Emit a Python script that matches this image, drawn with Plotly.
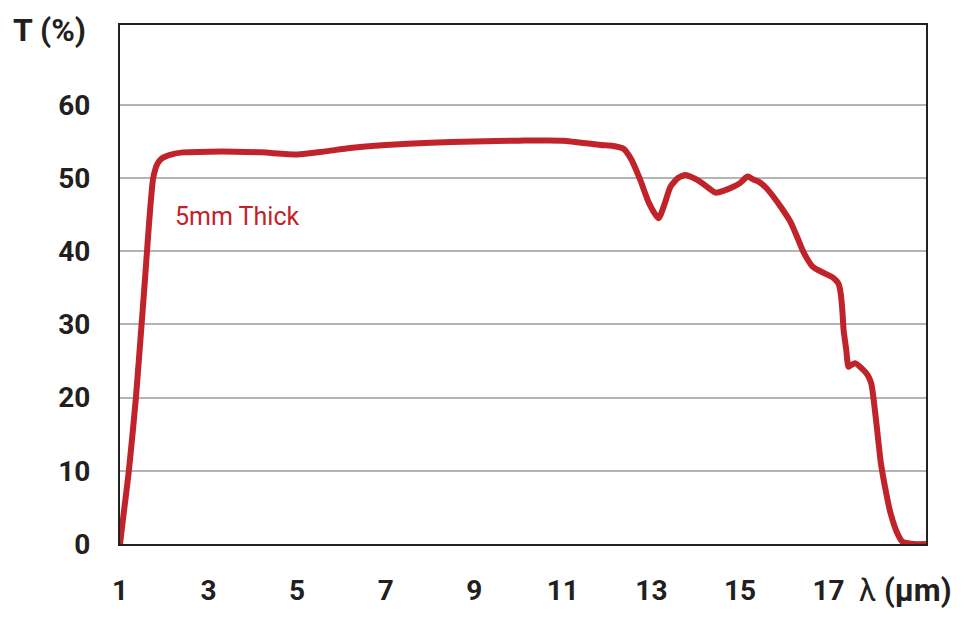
import plotly.graph_objects as go

# Transmission curve (wavelength in µm, transmission in %)
wavelength = [1.0, 1.1, 1.2, 1.36, 1.55, 1.75, 1.85, 1.95, 2.15, 2.42, 3.0, 3.6, 4.2, 5.0, 5.6, 6.2, 7.0, 8.0, 9.0,
              10.0, 11.0, 11.85, 12.1, 12.37, 12.55, 12.75, 12.95, 13.16, 13.3, 13.43, 13.6, 13.77, 13.95,
              14.1, 14.3, 14.45, 14.65, 14.85, 15.0, 15.17, 15.3, 15.42, 15.6, 15.76, 15.95, 16.14,
              16.3, 16.44, 16.64, 16.9, 17.1, 17.22, 17.27, 17.31, 17.34, 17.4, 17.45, 17.52, 17.6, 17.75,
              17.88, 17.96, 18.0, 18.08, 18.18, 18.3, 18.4, 18.55, 18.67, 18.9, 19.2]
transmission = [0.0, 5.0, 10.0, 20.0, 35.0, 50.0, 52.0, 52.7, 53.2, 53.5, 53.6, 53.6, 53.5, 53.2, 53.6, 54.1, 54.5, 54.8, 55.0,
                55.1, 55.1, 54.5, 54.4, 54.0, 52.5, 49.7, 46.5, 44.5, 46.5, 48.8, 50.0, 50.4, 50.0,
                49.5, 48.6, 48.0, 48.3, 48.8, 49.3, 50.2, 49.8, 49.5, 48.6, 47.4, 45.8, 44.0,
                41.8, 39.8, 37.9, 37.0, 36.4, 35.6, 34.4, 32.0, 29.2, 26.5, 24.2, 24.5, 24.7, 24.0,
                23.1, 22.0, 20.6, 16.5, 11.1, 7.0, 4.2, 1.5, 0.3, 0.0, 0.0]

x_ticks = [1, 3, 5, 7, 9, 11, 13, 15, 17]
y_ticks = [0, 10, 20, 30, 40, 50, 60]

line_color = "#C1232B"
text_color = "#231F20"
font_family = "Liberation Sans Narrow, Roboto, sans-serif"

fig = go.Figure()
fig.add_trace(go.Scatter(
    x=wavelength, y=transmission, mode="lines",
    line=dict(color=line_color, width=6, shape="spline", smoothing=0.6),
    hoverinfo="skip", showlegend=False,
))

fig.add_annotation(x=2.2, y=44.7, xref="x", yref="y", text="5mm Thick",
                   showarrow=False, xanchor="left", yanchor="middle",
                   font=dict(family=font_family, size=25, color=line_color))

fig.add_annotation(x=-0.135, y=0.99, xref="paper", yref="paper", text="<b>T (%)</b>",
                   showarrow=False, xanchor="left", yanchor="middle",
                   font=dict(family=font_family, size=32, color=text_color, weight="bold"))

fig.add_annotation(x=0.914, y=-0.089, xref="paper", yref="paper", text="λ <b>(µm)</b>",
                   showarrow=False, xanchor="left", yanchor="middle",
                   font=dict(family=font_family, size=31, color=text_color))

# The page adds an 8px body margin, so the figure is sized to fit the window
fig.update_layout(
    width=963, height=610,
    margin=dict(l=112, r=45, t=17, b=74),
    paper_bgcolor="white", plot_bgcolor="white",
    font=dict(family=font_family, color=text_color),
)
fig.update_xaxes(
    range=[1, 19.2], tickmode="array", tickvals=x_ticks,
    ticktext=[f"<b>{v}</b>" for v in x_ticks],
    showgrid=False, zeroline=False, automargin=False,
    showline=True, linecolor="#222222", linewidth=2, mirror=True,
    ticks="", ticklabelstandoff=20,
    tickfont=dict(family=font_family, size=28, color=text_color),
)
fig.update_yaxes(
    range=[0, 70.9], tickmode="array", tickvals=y_ticks,
    ticktext=[f"<b>{v}</b>" for v in y_ticks],
    showgrid=True, gridcolor="#B4B4B4", gridwidth=1.5, zeroline=False, automargin=False,
    showline=True, linecolor="#222222", linewidth=2, mirror=True,
    ticks="", ticklabelstandoff=22,
    tickfont=dict(family=font_family, size=28, color=text_color),
)

fig.write_html("out.html")
